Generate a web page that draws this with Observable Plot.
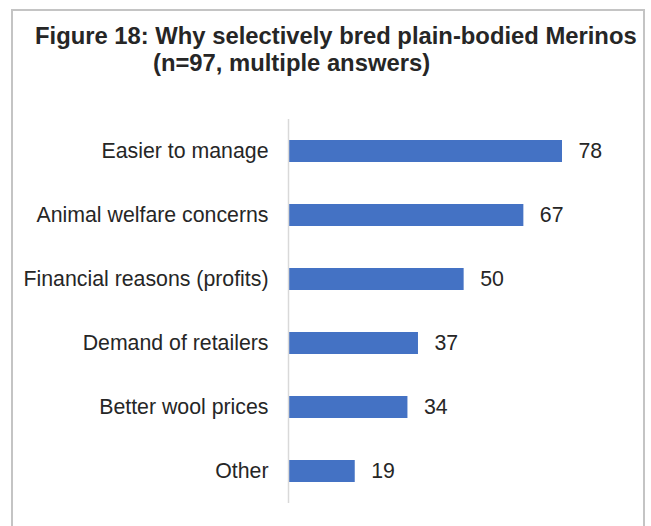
<!DOCTYPE html>
<html><head><meta charset="utf-8">
<script src="https://cdn.jsdelivr.net/npm/d3@7"></script>
<script src="https://cdn.jsdelivr.net/npm/@observablehq/plot@0.6"></script>
<style>
body{margin:0;background:#fff;}
#wrap{position:relative;width:651px;height:526px;overflow:hidden;font-family:"Liberation Sans",Arial,sans-serif;}
#frame{position:absolute;left:11px;top:9px;width:630px;height:600px;border:2px solid #c4c4c4;}
.t{position:absolute;font-weight:bold;font-size:23.8px;color:#262626;white-space:nowrap;line-height:1;}
#t1{left:35px;top:23.8px;}
#t2{left:153px;top:50.8px;}
#chart{position:absolute;left:0;top:0;}
</style></head>
<body><div id="wrap"><div id="frame"></div>
<div class="t" id="t1">Figure 18: Why selectively bred plain-bodied Merinos</div>
<div class="t" id="t2">(n=97, multiple answers)</div>
<div id="chart"></div></div>
<script>
const reasons = ["Easier to manage","Animal welfare concerns","Financial reasons (profits)","Demand of retailers","Better wool prices","Other"];
const counts = [78,67,50,37,34,19];
const data = reasons.map((r,i)=>({reason:r,count:counts[i]}));
const chart = Plot.plot({
  width:651,height:526,marginLeft:288,marginRight:89,marginTop:119,marginBottom:23,
  x:{domain:[0,78],axis:null},
  y:{domain:reasons,padding:0,label:null,axis:null},
  style:{fontFamily:'"Liberation Sans",Arial,sans-serif',fontSize:"21.3px",color:"#262626",background:"transparent"},
  marks:[
    Plot.barX(data,{x:"count",y:"reason",fill:"#4472c4",insetTop:21,insetBottom:21}),
    Plot.ruleX([0],{stroke:"#d9d9d9",strokeWidth:1.5}),
    Plot.text(data,{x:"count",y:"reason",text:d=>String(d.count),dx:16,textAnchor:"start",fontSize:21.3,fill:"#262626"}),
    Plot.axisY({tickSize:0,tickPadding:20,fontSize:21.3,label:null,fill:"#262626"})
  ]
});
document.getElementById("chart").appendChild(chart);
</script>
</body></html>
